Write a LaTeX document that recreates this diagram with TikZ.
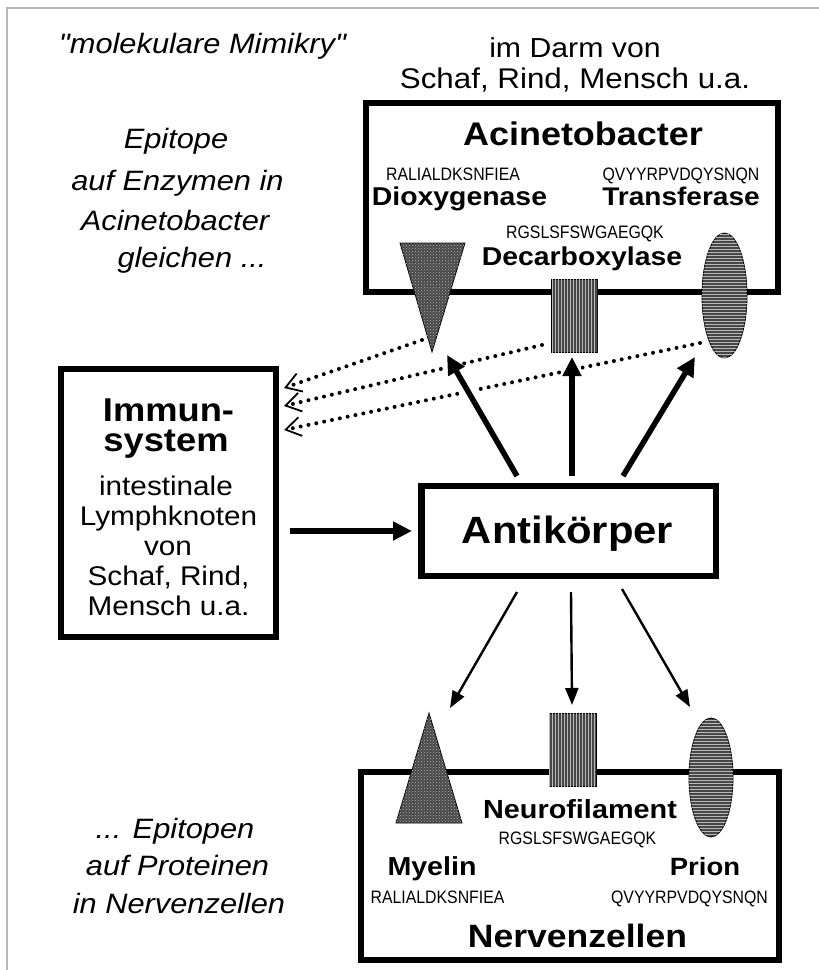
\documentclass[tikz,border=0pt]{standalone}
\usepackage{fontspec}
\setmainfont{Liberation Sans}[FakeStretch=1.1]
\newfontfamily\seqf{Liberation Sans}[FakeStretch=0.88]
\newfontfamily\quotef{Liberation Sans}[FakeStretch=1.1, Ligatures=TeXOff]
\usetikzlibrary{arrows.meta,patterns}
\tikzset{
  box/.style={draw, line width=6pt, inner sep=0pt, outer sep=0pt},
  rg/.style={anchor=base, inner sep=0pt, font={\fontsize{#1}{#1}\selectfont}},
  it/.style={anchor=base, inner sep=0pt, font={\fontsize{#1}{#1}\selectfont\itshape}},
  bd/.style={anchor=base, inner sep=0pt, font={\fontsize{#1}{#1}\selectfont\bfseries}},
  sq/.style={anchor=base, inner sep=0pt, font={\seqf\fontsize{18}{18}\selectfont}},
  shapeA/.style={draw=black, line width=0.8pt, fill=black!72, postaction={pattern=crosshatch dots, pattern color=gray!55}},
  shapeB/.style={draw=black, line width=0.8pt, fill=black!72, postaction={pattern=vertical lines, pattern color=gray!55}},
  shapeC/.style={draw=black, line width=0.8pt, fill=black!72, postaction={pattern=horizontal lines, pattern color=gray!55}},
  thickarrow/.style={line width=5.5pt, -{Triangle[length=19pt,width=18pt]}},
  halo/.style={draw=white, line width=17pt, shorten >=6pt},
  thinarrow/.style={line width=2.4pt, -{Triangle[length=17pt,width=13pt]}},
  dotarrow/.style={line width=4pt, line cap=round, dash pattern=on 0pt off 8pt,
     -{Straight Barb[length=15pt,width=19pt,line width=1.8pt]}},
  frame/.style={draw=gray!55, line width=1.5pt}
}
\begin{document}
\begin{tikzpicture}[x=1pt,y=-1pt]
\useasboundingbox (0,0) rectangle (819,970);
\draw[frame] (7,970) -- (7,8) -- (819,8);

% ---- top texts
\node[anchor=base, inner sep=0pt, font={\quotef\fontsize{28}{28}\selectfont\itshape}] (mm) at (202.5,53) {"molekulare Mimikry"};
\node[rg=27.5] (darm1) at (575,57) {im Darm von};
\node[rg=28.5] (darm2) at (575,88) {Schaf, Rind, Mensch u.a.};
\node[it=28] (e1) at (176,148) {Epitope};
\node[it=28] (e2) at (177.5,190) {auf Enzymen in};
\node[it=28] (e3) at (175,230) {Acinetobacter};
\node[it=28] (e4) at (192,267) {gleichen ...};

% ---- boxes
\node[box, minimum width=412pt, minimum height=189pt] (acbox) at (572,197) {};
\node[box, line width=6.5pt, minimum width=418pt, minimum height=188pt] (nzbox) at (570,866) {};
\node[box, minimum width=214.5pt, minimum height=267.5pt] (imbox) at (168.25,502.75) {};
\node[box, line width=6.5pt, minimum width=294.5pt, minimum height=90pt] (akbox) at (568.75,531) {};

% ---- Acinetobacter box texts
\node[bd=32.7] (acti) at (583,145) {Acinetobacter};
\node[sq] (s1) at (453,180) {RALIALDKSNFIEA};
\node[bd=25.8] (diox) at (459.5,205) {Dioxygenase};
\node[sq] (s2) at (681,180) {QVYYRPVDQYSNQN};
\node[bd=25.5] (tran) at (681,205) {Transferase};
\node[sq] (s3) at (585,238) {RGSLSFSWGAEGQK};
\node[bd=25.8] (deca) at (582,265) {Decarboxylase};

% ---- Immunsystem texts
\node[bd=33] (im1) at (168.5,421) {Immun-};
\node[bd=33] (im2) at (166,451) {system};
\node[rg=27] (im3) at (166,495) {intestinale};
\node[rg=27] (im4) at (168.5,525) {Lymphknoten};
\node[rg=27] (im5) at (168,555) {von};
\node[rg=27] (im6) at (168.5,585) {Schaf, Rind,};
\node[rg=27] (im7) at (168.5,615) {Mensch u.a.};

% ---- Antikoerper
\node[bd=38] (akt) at (567.5,543) {Antikörper};

% ---- Nervenzellen texts
\node[bd=26.2] (neuro) at (580,818) {Neurofilament};
\node[sq] (s4) at (577.5,844) {RGSLSFSWGAEGQK};
\node[bd=26] (mye) at (432,875) {Myelin};
\node[sq] (s5) at (437.5,903) {RALIALDKSNFIEA};
\node[bd=25] (pri) at (705,875) {Prion};
\node[sq] (s6) at (689.5,903) {QVYYRPVDQYSNQN};
\node[bd=32.3] (nzt) at (577.5,947) {Nervenzellen};

\node[it=28] (p1) at (175,838) {... Epitopen};
\node[it=28] (p2) at (177.5,875) {auf Proteinen};
\node[it=28] (p3) at (179,913) {in Nervenzellen};

% ---- epitope shapes
\draw[shapeA] (400,243) -- (465,243) -- (432,352) -- cycle;
\draw[shapeB] (551,279) rectangle (597,352);
\draw[shapeC] (724.5,295.5) ellipse [x radius=22.5pt, y radius=62.5pt];
\draw[shapeA] (396,823) -- (462,823) -- (429,713) -- cycle;
\draw[shapeB] (549,713) rectangle (596,786);
\draw[shapeC] (711,777.5) ellipse [x radius=22pt, y radius=59.5pt];

% ---- connector end points
\coordinate (d1s) at (422,340); \coordinate (d1e) at (284,388);
\coordinate (d2s) at (542,345); \coordinate (d2e) at (284,406);
\coordinate (d3s) at (700,343); \coordinate (d3e) at (284,430);
\coordinate (u1s) at (517,476); \coordinate (u1e) at (447,355);
\coordinate (u2s) at (572,476); \coordinate (u2e) at (572,357);
\coordinate (u3s) at (623,476); \coordinate (u3e) at (695,357);
\coordinate (b1s) at (517,592); \coordinate (b1e) at (450,708);
\coordinate (b2s) at (571,592); \coordinate (b2e) at (572,705);
\coordinate (b3s) at (622,589); \coordinate (b3e) at (690,707);

% dotted arrows back to the immune system
\draw[dotarrow] (d1s) -- (d1e);
\draw[dotarrow] (d2s) -- (d2e);
\draw[dotarrow] (d3s) -- (d3e);

% thick arrows up to the bacterial epitopes
\draw[halo] (u1s) -- (u1e);
\draw[halo] (u2s) -- (u2e);
\draw[halo] (u3s) -- (u3e);
\draw[thickarrow] (u1s) -- (u1e);
\draw[thickarrow] (u2s) -- (u2e);
\draw[thickarrow] (u3s) -- (u3e);

% immune system -> antibodies
\draw[line width=6pt, -{Triangle[length=19pt,width=18pt]}, shorten <=14.5pt, shorten >=9.5pt]
  (imbox.east |- akbox.west) -- (akbox.west);

% thin arrows down to nerve cell epitopes
\draw[thinarrow] (b1s) -- (b1e);
\draw[thinarrow] (b2s) -- (b2e);
\draw[thinarrow] (b3s) -- (b3e);
\end{tikzpicture}
\end{document}
